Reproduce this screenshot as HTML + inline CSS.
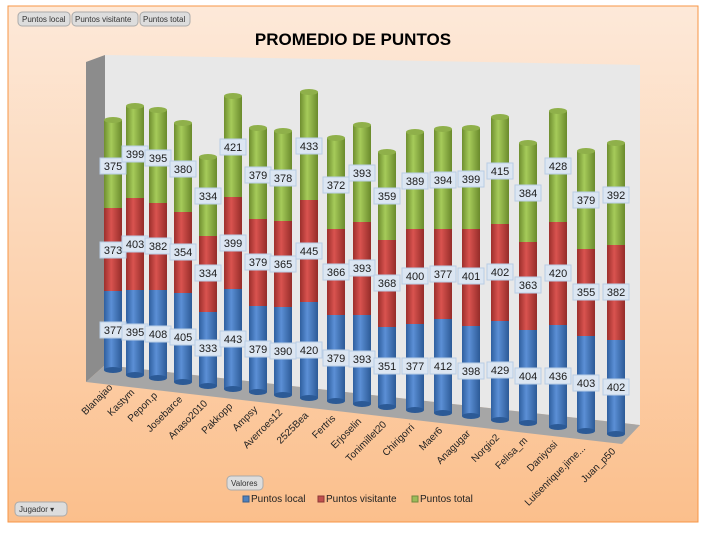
<!DOCTYPE html>
<html><head><style>
body{margin:0;width:707px;height:533px;background:#fff;overflow:hidden}
svg{display:block;font-family:"Liberation Sans",sans-serif}
</style></head><body>
<svg width="707" height="533" viewBox="0 0 707 533">
<defs>
<linearGradient id="bg" x1="0" y1="0" x2="0" y2="1"><stop offset="0" stop-color="#fde9d9"/><stop offset="1" stop-color="#fbbf8c"/></linearGradient>
<linearGradient id="gb" x1="0" x2="1"><stop offset="0" stop-color="#2f5f9e"/><stop offset=".4" stop-color="#5b8fd6"/><stop offset="1" stop-color="#2c5a96"/></linearGradient>
<linearGradient id="gr" x1="0" x2="1"><stop offset="0" stop-color="#9c2f2c"/><stop offset=".4" stop-color="#d9534f"/><stop offset="1" stop-color="#952c29"/></linearGradient>
<linearGradient id="gg" x1="0" x2="1"><stop offset="0" stop-color="#6e8e2f"/><stop offset=".4" stop-color="#a6cb5a"/><stop offset="1" stop-color="#6a8a2c"/></linearGradient>
<g id="lb"><rect x="-13" y="-8" width="26" height="16" fill="#dce6f2" stroke="#b9cde5"/></g>
</defs>
<rect x="8" y="6" width="690" height="516" fill="url(#bg)" stroke="#f79646"/>
<g font-size="8" fill="#333">
<rect x="18" y="12" width="52" height="14" rx="4" fill="#ddd" stroke="#aaa"/><text x="22" y="22">Puntos local</text>
<rect x="72" y="12" width="66" height="14" rx="4" fill="#ddd" stroke="#aaa"/><text x="75" y="22">Puntos visitante</text>
<rect x="140" y="12" width="50" height="14" rx="4" fill="#ddd" stroke="#aaa"/><text x="143" y="22">Puntos total</text>
<rect x="227" y="476" width="36" height="14" rx="4" fill="#ddd" stroke="#aaa"/><text x="231" y="486">Valores</text>
<rect x="15" y="502" width="52" height="14" rx="4" fill="#ddd" stroke="#aaa"/><text x="19" y="512">Jugador ▾</text>
</g>
<text x="353" y="45" text-anchor="middle" font-size="17" font-weight="bold" fill="#000">PROMEDIO DE PUNTOS</text>
<polygon points="105,55 640,65 640,425 105,365" fill="#e8e8e8"/>
<polygon points="86,62 105,55 105,365 86,382" fill="#8c8c8c"/>
<polygon points="86,382 105,365 640,425 622,444" fill="#a6a6a6"/>
<g id="bars"></g>
<g font-size="11" fill="#1a1a1a" text-anchor="middle">
<g transform="translate(113,0)"><rect x="-9" y="291" width="18" height="79" fill="url(#gb)"/><rect x="-9" y="208" width="18" height="83" fill="url(#gr)"/><rect x="-9" y="120" width="18" height="88" fill="url(#gg)"/><ellipse cy="120" rx="9" ry="3" fill="#8fb04a"/><ellipse cy="370" rx="9" ry="3" fill="#2c5a96"/></g>
<g transform="translate(135,0)"><rect x="-9" y="290" width="18" height="85" fill="url(#gb)"/><rect x="-9" y="198" width="18" height="92" fill="url(#gr)"/><rect x="-9" y="106" width="18" height="92" fill="url(#gg)"/><ellipse cy="106" rx="9" ry="3" fill="#8fb04a"/><ellipse cy="375" rx="9" ry="3" fill="#2c5a96"/></g>
<g transform="translate(158,0)"><rect x="-9" y="290" width="18" height="88" fill="url(#gb)"/><rect x="-9" y="203" width="18" height="87" fill="url(#gr)"/><rect x="-9" y="110" width="18" height="93" fill="url(#gg)"/><ellipse cy="110" rx="9" ry="3" fill="#8fb04a"/><ellipse cy="378" rx="9" ry="3" fill="#2c5a96"/></g>
<g transform="translate(183,0)"><rect x="-9" y="293" width="18" height="89" fill="url(#gb)"/><rect x="-9" y="212" width="18" height="81" fill="url(#gr)"/><rect x="-9" y="123" width="18" height="89" fill="url(#gg)"/><ellipse cy="123" rx="9" ry="3" fill="#8fb04a"/><ellipse cy="382" rx="9" ry="3" fill="#2c5a96"/></g>
<g transform="translate(208,0)"><rect x="-9" y="312" width="18" height="74" fill="url(#gb)"/><rect x="-9" y="236" width="18" height="76" fill="url(#gr)"/><rect x="-9" y="157" width="18" height="79" fill="url(#gg)"/><ellipse cy="157" rx="9" ry="3" fill="#8fb04a"/><ellipse cy="386" rx="9" ry="3" fill="#2c5a96"/></g>
<g transform="translate(233,0)"><rect x="-9" y="289" width="18" height="100" fill="url(#gb)"/><rect x="-9" y="197" width="18" height="92" fill="url(#gr)"/><rect x="-9" y="96" width="18" height="101" fill="url(#gg)"/><ellipse cy="96" rx="9" ry="3" fill="#8fb04a"/><ellipse cy="389" rx="9" ry="3" fill="#2c5a96"/></g>
<g transform="translate(258,0)"><rect x="-9" y="306" width="18" height="86" fill="url(#gb)"/><rect x="-9" y="219" width="18" height="87" fill="url(#gr)"/><rect x="-9" y="128" width="18" height="91" fill="url(#gg)"/><ellipse cy="128" rx="9" ry="3" fill="#8fb04a"/><ellipse cy="392" rx="9" ry="3" fill="#2c5a96"/></g>
<g transform="translate(283,0)"><rect x="-9" y="307" width="18" height="88" fill="url(#gb)"/><rect x="-9" y="221" width="18" height="86" fill="url(#gr)"/><rect x="-9" y="131" width="18" height="90" fill="url(#gg)"/><ellipse cy="131" rx="9" ry="3" fill="#8fb04a"/><ellipse cy="395" rx="9" ry="3" fill="#2c5a96"/></g>
<g transform="translate(309,0)"><rect x="-9" y="302" width="18" height="96" fill="url(#gb)"/><rect x="-9" y="200" width="18" height="102" fill="url(#gr)"/><rect x="-9" y="92" width="18" height="108" fill="url(#gg)"/><ellipse cy="92" rx="9" ry="3" fill="#8fb04a"/><ellipse cy="398" rx="9" ry="3" fill="#2c5a96"/></g>
<g transform="translate(336,0)"><rect x="-9" y="315" width="18" height="86" fill="url(#gb)"/><rect x="-9" y="229" width="18" height="86" fill="url(#gr)"/><rect x="-9" y="138" width="18" height="91" fill="url(#gg)"/><ellipse cy="138" rx="9" ry="3" fill="#8fb04a"/><ellipse cy="401" rx="9" ry="3" fill="#2c5a96"/></g>
<g transform="translate(362,0)"><rect x="-9" y="315" width="18" height="89" fill="url(#gb)"/><rect x="-9" y="222" width="18" height="93" fill="url(#gr)"/><rect x="-9" y="125" width="18" height="97" fill="url(#gg)"/><ellipse cy="125" rx="9" ry="3" fill="#8fb04a"/><ellipse cy="404" rx="9" ry="3" fill="#2c5a96"/></g>
<g transform="translate(387,0)"><rect x="-9" y="327" width="18" height="80" fill="url(#gb)"/><rect x="-9" y="240" width="18" height="87" fill="url(#gr)"/><rect x="-9" y="152" width="18" height="88" fill="url(#gg)"/><ellipse cy="152" rx="9" ry="3" fill="#8fb04a"/><ellipse cy="407" rx="9" ry="3" fill="#2c5a96"/></g>
<g transform="translate(415,0)"><rect x="-9" y="324" width="18" height="86" fill="url(#gb)"/><rect x="-9" y="229" width="18" height="95" fill="url(#gr)"/><rect x="-9" y="132" width="18" height="97" fill="url(#gg)"/><ellipse cy="132" rx="9" ry="3" fill="#8fb04a"/><ellipse cy="410" rx="9" ry="3" fill="#2c5a96"/></g>
<g transform="translate(443,0)"><rect x="-9" y="319" width="18" height="94" fill="url(#gb)"/><rect x="-9" y="229" width="18" height="90" fill="url(#gr)"/><rect x="-9" y="129" width="18" height="100" fill="url(#gg)"/><ellipse cy="129" rx="9" ry="3" fill="#8fb04a"/><ellipse cy="413" rx="9" ry="3" fill="#2c5a96"/></g>
<g transform="translate(471,0)"><rect x="-9" y="326" width="18" height="90" fill="url(#gb)"/><rect x="-9" y="229" width="18" height="97" fill="url(#gr)"/><rect x="-9" y="128" width="18" height="101" fill="url(#gg)"/><ellipse cy="128" rx="9" ry="3" fill="#8fb04a"/><ellipse cy="416" rx="9" ry="3" fill="#2c5a96"/></g>
<g transform="translate(500,0)"><rect x="-9" y="321" width="18" height="99" fill="url(#gb)"/><rect x="-9" y="224" width="18" height="97" fill="url(#gr)"/><rect x="-9" y="117" width="18" height="107" fill="url(#gg)"/><ellipse cy="117" rx="9" ry="3" fill="#8fb04a"/><ellipse cy="420" rx="9" ry="3" fill="#2c5a96"/></g>
<g transform="translate(528,0)"><rect x="-9" y="330" width="18" height="93" fill="url(#gb)"/><rect x="-9" y="242" width="18" height="88" fill="url(#gr)"/><rect x="-9" y="143" width="18" height="99" fill="url(#gg)"/><ellipse cy="143" rx="9" ry="3" fill="#8fb04a"/><ellipse cy="423" rx="9" ry="3" fill="#2c5a96"/></g>
<g transform="translate(558,0)"><rect x="-9" y="325" width="18" height="102" fill="url(#gb)"/><rect x="-9" y="222" width="18" height="103" fill="url(#gr)"/><rect x="-9" y="111" width="18" height="111" fill="url(#gg)"/><ellipse cy="111" rx="9" ry="3" fill="#8fb04a"/><ellipse cy="427" rx="9" ry="3" fill="#2c5a96"/></g>
<g transform="translate(586,0)"><rect x="-9" y="336" width="18" height="95" fill="url(#gb)"/><rect x="-9" y="249" width="18" height="87" fill="url(#gr)"/><rect x="-9" y="151" width="18" height="98" fill="url(#gg)"/><ellipse cy="151" rx="9" ry="3" fill="#8fb04a"/><ellipse cy="431" rx="9" ry="3" fill="#2c5a96"/></g>
<g transform="translate(616,0)"><rect x="-9" y="340" width="18" height="94" fill="url(#gb)"/><rect x="-9" y="245" width="18" height="95" fill="url(#gr)"/><rect x="-9" y="143" width="18" height="102" fill="url(#gg)"/><ellipse cy="143" rx="9" ry="3" fill="#8fb04a"/><ellipse cy="434" rx="9" ry="3" fill="#2c5a96"/></g>
</g>
<g font-size="11" fill="#1a1a1a" text-anchor="middle">
<g transform="translate(113,0)"><use href="#lb" y="166"/><text y="170">375</text><use href="#lb" y="250"/><text y="254">373</text><use href="#lb" y="330"/><text y="334">377</text></g>
<g transform="translate(135,0)"><use href="#lb" y="154"/><text y="158">399</text><use href="#lb" y="244"/><text y="248">403</text><use href="#lb" y="332"/><text y="336">395</text></g>
<g transform="translate(158,0)"><use href="#lb" y="158"/><text y="162">395</text><use href="#lb" y="246"/><text y="250">382</text><use href="#lb" y="334"/><text y="338">408</text></g>
<g transform="translate(183,0)"><use href="#lb" y="169"/><text y="173">380</text><use href="#lb" y="252"/><text y="256">354</text><use href="#lb" y="337"/><text y="341">405</text></g>
<g transform="translate(208,0)"><use href="#lb" y="196"/><text y="200">334</text><use href="#lb" y="273"/><text y="277">334</text><use href="#lb" y="348"/><text y="352">333</text></g>
<g transform="translate(233,0)"><use href="#lb" y="147"/><text y="151">421</text><use href="#lb" y="243"/><text y="247">399</text><use href="#lb" y="339"/><text y="343">443</text></g>
<g transform="translate(258,0)"><use href="#lb" y="175"/><text y="179">379</text><use href="#lb" y="262"/><text y="266">379</text><use href="#lb" y="349"/><text y="353">379</text></g>
<g transform="translate(283,0)"><use href="#lb" y="178"/><text y="182">378</text><use href="#lb" y="264"/><text y="268">365</text><use href="#lb" y="351"/><text y="355">390</text></g>
<g transform="translate(309,0)"><use href="#lb" y="146"/><text y="150">433</text><use href="#lb" y="251"/><text y="255">445</text><use href="#lb" y="350"/><text y="354">420</text></g>
<g transform="translate(336,0)"><use href="#lb" y="185"/><text y="189">372</text><use href="#lb" y="272"/><text y="276">366</text><use href="#lb" y="358"/><text y="362">379</text></g>
<g transform="translate(362,0)"><use href="#lb" y="173"/><text y="177">393</text><use href="#lb" y="268"/><text y="272">393</text><use href="#lb" y="359"/><text y="363">393</text></g>
<g transform="translate(387,0)"><use href="#lb" y="196"/><text y="200">359</text><use href="#lb" y="283"/><text y="287">368</text><use href="#lb" y="366"/><text y="370">351</text></g>
<g transform="translate(415,0)"><use href="#lb" y="181"/><text y="185">389</text><use href="#lb" y="276"/><text y="280">400</text><use href="#lb" y="366"/><text y="370">377</text></g>
<g transform="translate(443,0)"><use href="#lb" y="180"/><text y="184">394</text><use href="#lb" y="274"/><text y="278">377</text><use href="#lb" y="366"/><text y="370">412</text></g>
<g transform="translate(471,0)"><use href="#lb" y="179"/><text y="183">399</text><use href="#lb" y="276"/><text y="280">401</text><use href="#lb" y="371"/><text y="375">398</text></g>
<g transform="translate(500,0)"><use href="#lb" y="171"/><text y="175">415</text><use href="#lb" y="272"/><text y="276">402</text><use href="#lb" y="370"/><text y="374">429</text></g>
<g transform="translate(528,0)"><use href="#lb" y="193"/><text y="197">384</text><use href="#lb" y="285"/><text y="289">363</text><use href="#lb" y="376"/><text y="380">404</text></g>
<g transform="translate(558,0)"><use href="#lb" y="166"/><text y="170">428</text><use href="#lb" y="273"/><text y="277">420</text><use href="#lb" y="376"/><text y="380">436</text></g>
<g transform="translate(586,0)"><use href="#lb" y="200"/><text y="204">379</text><use href="#lb" y="292"/><text y="296">355</text><use href="#lb" y="383"/><text y="387">403</text></g>
<g transform="translate(616,0)"><use href="#lb" y="195"/><text y="199">392</text><use href="#lb" y="292"/><text y="296">382</text><use href="#lb" y="387"/><text y="391">402</text></g>
</g>
<g font-size="10" fill="#222" text-anchor="end">
<text transform="translate(113,388) rotate(-45)">Blanajao</text>
<text transform="translate(135,393) rotate(-45)">Kastym</text>
<text transform="translate(158,396) rotate(-45)">Pepon.p</text>
<text transform="translate(183,400) rotate(-45)">Josebarce</text>
<text transform="translate(208,404) rotate(-45)">Anaso2010</text>
<text transform="translate(233,407) rotate(-45)">Pakkopp</text>
<text transform="translate(258,410) rotate(-45)">Ampsy</text>
<text transform="translate(283,413) rotate(-45)">Averroes12</text>
<text transform="translate(309,416) rotate(-45)">2525Bea</text>
<text transform="translate(336,419) rotate(-45)">Fertris</text>
<text transform="translate(362,422) rotate(-45)">Erjoselin</text>
<text transform="translate(387,425) rotate(-45)">Tonimillet20</text>
<text transform="translate(415,428) rotate(-45)">Chirigorri</text>
<text transform="translate(443,431) rotate(-45)">Maer6</text>
<text transform="translate(471,434) rotate(-45)">Anagugar</text>
<text transform="translate(500,438) rotate(-45)">Norgio2</text>
<text transform="translate(528,441) rotate(-45)">Felisa_m</text>
<text transform="translate(558,445) rotate(-45)">Daniyosi</text>
<text transform="translate(586,449) rotate(-45)">Luisenrique.jime...</text>
<text transform="translate(616,452) rotate(-45)">Juan_p50</text>
</g>
<g font-size="10" fill="#222">
<rect x="243" y="496" width="6" height="6" fill="#4f81bd" stroke="#385d8a"/><text x="251" y="502">Puntos local</text>
<rect x="318" y="496" width="6" height="6" fill="#c0504d" stroke="#8c3836"/><text x="326" y="502">Puntos visitante</text>
<rect x="412" y="496" width="6" height="6" fill="#9bbb59" stroke="#71893f"/><text x="420" y="502">Puntos total</text>
</g>
</svg>
</body></html>
